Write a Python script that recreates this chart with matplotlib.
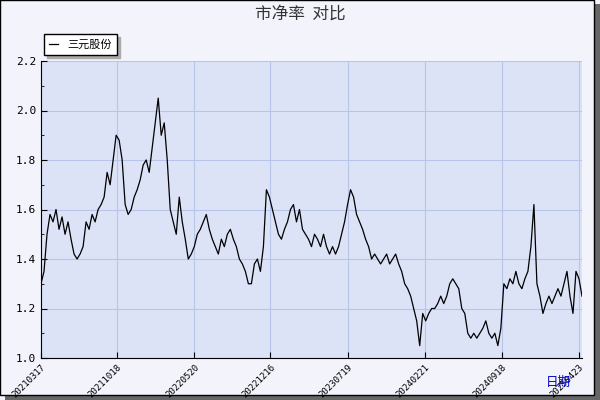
import matplotlib.pyplot as plt
from matplotlib.patches import Rectangle

plt.rcParams['font.family'] = ['Noto Sans CJK SC', 'DejaVu Sans']

pb = [1.30, 1.35, 1.50, 1.58, 1.55, 1.60, 1.52, 1.57, 1.50, 1.55, 1.48, 1.42, 1.40, 1.42, 1.45,
      1.55, 1.52, 1.58, 1.55, 1.60, 1.62, 1.65, 1.75, 1.70, 1.80, 1.90, 1.88, 1.80, 1.62, 1.58,
      1.60, 1.65, 1.68, 1.72, 1.78, 1.80, 1.75, 1.85, 1.95, 2.05, 1.90, 1.95, 1.80, 1.60, 1.55,
      1.50, 1.65, 1.55, 1.48, 1.40, 1.42, 1.45, 1.50, 1.52, 1.55, 1.58, 1.52, 1.48, 1.45, 1.42,
      1.48, 1.45, 1.50, 1.52, 1.48, 1.45, 1.40, 1.38, 1.35, 1.30, 1.30, 1.38, 1.40, 1.35, 1.45,
      1.68, 1.65, 1.60, 1.55, 1.50, 1.48, 1.52, 1.55, 1.60, 1.62, 1.55, 1.60, 1.52, 1.50, 1.48,
      1.45, 1.50, 1.48, 1.45, 1.50, 1.45, 1.42, 1.45, 1.42, 1.45, 1.50, 1.55, 1.62, 1.68, 1.65,
      1.58, 1.55, 1.52, 1.48, 1.45, 1.40, 1.42, 1.40, 1.38, 1.40, 1.42, 1.38, 1.40, 1.42, 1.38,
      1.35, 1.30, 1.28, 1.25, 1.20, 1.15, 1.05, 1.18, 1.15, 1.18, 1.20, 1.20, 1.22, 1.25, 1.22,
      1.25, 1.30, 1.32, 1.30, 1.28, 1.20, 1.18, 1.10, 1.08, 1.10, 1.08, 1.10, 1.12, 1.15, 1.10,
      1.08, 1.10, 1.05, 1.12, 1.30, 1.28, 1.32, 1.30, 1.35, 1.30, 1.28, 1.32, 1.35, 1.45, 1.62,
      1.30, 1.25, 1.18, 1.22, 1.25, 1.22, 1.25, 1.28, 1.25, 1.30, 1.35, 1.25, 1.18, 1.35, 1.32,
      1.25]
tick_pos = [0, 25.3, 51, 76.3, 102, 127.7, 153.3, 179]
tick_labels = ['20210317', '20211018', '20220520', '20221216', '20230719',
               '20240221', '20240918', '20250423']

fig = plt.figure(figsize=(6, 4), dpi=100, facecolor='#f2f3fb')
# outer frame with shadow
fig.patches.append(Rectangle((0.008, 0.0), 0.992, 0.99, transform=fig.transFigure,
                             facecolor='#666666', edgecolor='none', zorder=-2))
fig.patches.append(Rectangle((0.0, 0.012), 0.99, 0.988, transform=fig.transFigure,
                             facecolor='#f2f3fb', edgecolor='black', lw=1, zorder=-1))

ax = fig.add_axes([41/600, 42/400, 541/600, 297/400])
ax.set_facecolor('#dde3f7')
ax.plot(range(len(pb)), pb, color='black', lw=0.9, label='三元股份')
ax.set_xlim(0, 180)
ax.set_ylim(1.0, 2.2)
ax.set_yticks([1.0, 1.2, 1.4, 1.6, 1.8, 2.0, 2.2])
ax.set_yticklabels(['1.0', '1.2', '1.4', '1.6', '1.8', '2.0', '2.2'], fontsize=8, family='DejaVu Sans Mono')
ax.set_yticks([1.1, 1.3, 1.5, 1.7, 1.9, 2.1], minor=True)
ax.set_xticks(tick_pos)
ax.set_xticklabels(tick_labels, rotation=45, fontsize=6.5, ha='right', rotation_mode='anchor',
                   family='DejaVu Sans Mono')
ax.grid(True, color='#b8c4ea', lw=0.8)
for s in ['top', 'right']:
    ax.spines[s].set_visible(False)
ax.tick_params(direction='in', length=4)
ax.tick_params(which='minor', direction='in', length=2)

fig.text(0.5, 0.965, '市净率  对比', ha='center', va='center', fontsize=12, color='#333333')
fig.text(0.93, 0.045, '日期', ha='center', va='center', fontsize=9, color='#0000cc')
ax.legend(loc='lower left', bbox_to_anchor=(-0.005, 1.0), frameon=True, fancybox=False,
          edgecolor='black', fontsize=8, handlelength=0.8, borderpad=0.5,
          shadow={'color': '#aaaaaa', 'alpha': 1})

fig.savefig('out.png', dpi=100, facecolor=fig.get_facecolor())
